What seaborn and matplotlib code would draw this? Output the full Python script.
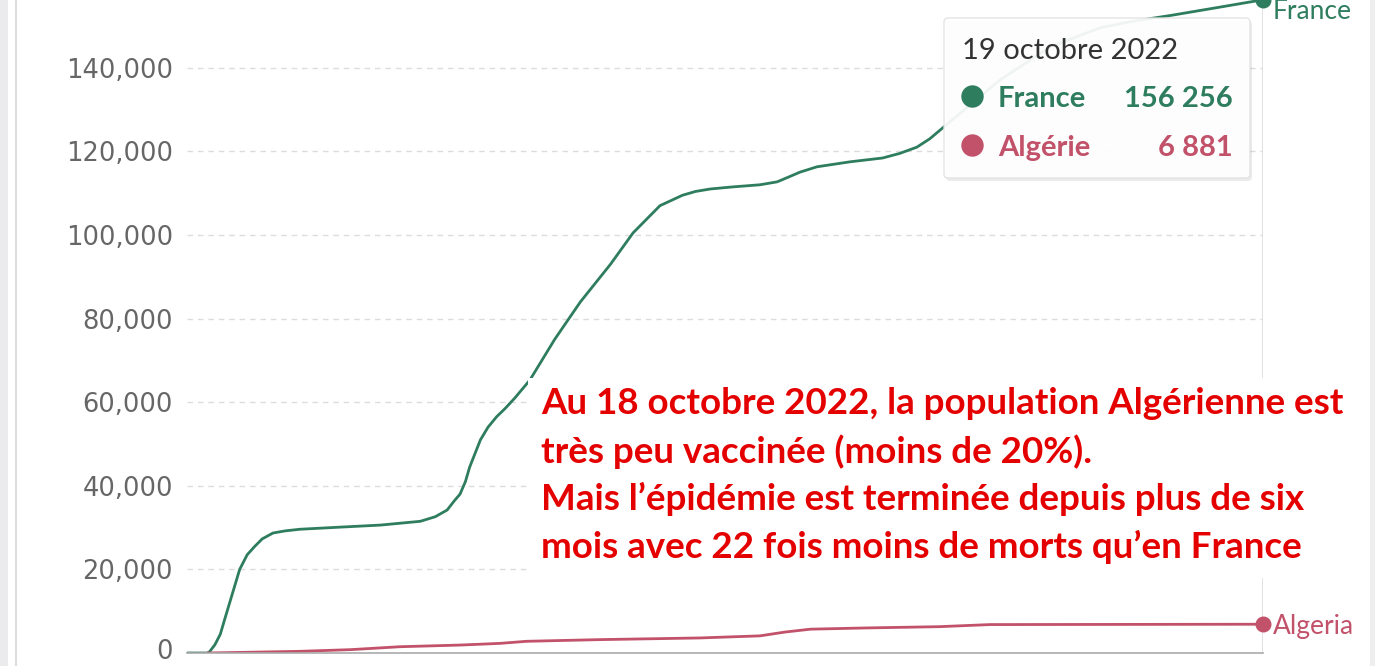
import pandas as pd
import seaborn as sns
import matplotlib.pyplot as plt
import matplotlib.transforms as mtransforms
from matplotlib.patches import FancyBboxPatch, Rectangle
from matplotlib.ticker import FuncFormatter

# cumulative confirmed deaths
france_dates = ["2020-01-22", "2020-02-10", "2020-02-12", "2020-02-17", "2020-02-22",
                "2020-02-26", "2020-03-04", "2020-03-11", "2020-03-18", "2020-03-25",
                "2020-04-01", "2020-04-11", "2020-04-22", "2020-05-06", "2020-06-12",
                "2020-07-20", "2020-08-26", "2020-09-09", "2020-09-20", "2020-09-27",
                "2020-10-02", "2020-10-07", "2020-10-11", "2020-10-21", "2020-10-28",
                "2020-11-05", "2020-11-13", "2020-11-22", "2020-12-06", "2020-12-29",
                "2021-01-22", "2021-02-19", "2021-03-12", "2021-04-06", "2021-04-27",
                "2021-05-09", "2021-05-23", "2021-06-13", "2021-07-08", "2021-07-24",
                "2021-08-05", "2021-08-14", "2021-08-30", "2021-09-30", "2021-10-30",
                "2021-11-15", "2021-12-01", "2021-12-13", "2021-12-25", "2022-01-19",
                "2022-02-16", "2022-04-04", "2022-05-20", "2022-06-17", "2022-07-25",
                "2022-09-09", "2022-10-19"]
france_deaths = [0, 0, 300, 2000, 4500,
                 8000, 14000, 20000, 23500, 25500,
                 27300, 28700, 29200, 29600, 30100,
                 30600, 31500, 32600, 34200, 36500,
                 38000, 41000, 44500, 51000, 54000,
                 56500, 58500, 61000, 65300, 75000,
                 84000, 93000, 100500, 107000, 109500,
                 110400, 111000, 111500, 112000, 112700,
                 114000, 115000, 116300, 117500, 118400,
                 119500, 121000, 123000, 125600, 131000,
                 137000, 145000, 149500, 151000, 152500,
                 154500, 156256]

algeria_dates = ["2020-02-10", "2020-05-06", "2020-06-22", "2020-08-07", "2020-10-02",
                 "2020-11-08", "2020-12-03", "2021-02-09", "2021-05-13", "2021-07-08",
                 "2021-07-31", "2021-08-24", "2021-10-16", "2021-12-22", "2022-02-07",
                 "2022-10-19"]
algeria_deaths = [0, 400, 800, 1500, 1900,
                  2300, 2800, 3200, 3600, 4100,
                  5000, 5700, 6000, 6300, 6800,
                  6881]

colors = {"France": "#2e7d5e", "Algeria": "#c2516a"}
tick_dates = ["2020-01-22", "2021-01-30", "2021-08-26", "2022-10-19"]
y_ticks = [0, 20000, 40000, 60000, 80000, 100000, 120000, 140000]

tooltip_date = "19 octobre 2022"
tooltip_rows = [("France", "156 256"), ("Algérie", "6 881")]
note_lines = ["Au 18 octobre 2022, la population Algérienne est",
              "très peu vaccinée (moins de 20%).",
              "Mais l’épidémie est terminée depuis plus de six",
              "mois avec 22 fois moins de morts qu’en France"]

df = pd.concat([
    pd.DataFrame({"date": pd.to_datetime(france_dates), "deaths": france_deaths, "country": "France"}),
    pd.DataFrame({"date": pd.to_datetime(algeria_dates), "deaths": algeria_deaths, "country": "Algeria"}),
])

sns.set_style("white")
plt.rcParams["font.family"] = ["Lato", "DejaVu Sans"]

W, H = 1375, 666
fig = plt.figure(figsize=(W / 100, H / 100), dpi=100)
ax = fig.add_axes([187 / W, 13 / H, 1076 / W, 653 / H])

sns.lineplot(data=df, x="date", y="deaths", hue="country", palette=colors,
             legend=False, linewidth=2.0, ax=ax)

start, end = pd.Timestamp(france_dates[0]), pd.Timestamp(france_dates[-1])
ax.set_xlim(start, end)
ax.set_ylim(0, 156200)
ax.axvline(end, color="#dddddd", linewidth=1.2, zorder=0)

# end dots + series labels
for name, dates, vals, off in [("France", france_dates, france_deaths, (7, -8.5)),
                               ("Algeria", algeria_dates, algeria_deaths, (7, -1.5))]:
    ax.scatter([pd.Timestamp(dates[-1])], [vals[-1]], s=110, color=colors[name],
               zorder=5, clip_on=False)
    ax.annotate(name, (pd.Timestamp(dates[-1]), vals[-1]), xytext=off,
                textcoords="offset points", va="center",
                color=colors[name], fontsize=19, annotation_clip=False)

ax.set_yticks(y_ticks)
ax.yaxis.set_major_formatter(FuncFormatter(lambda v, p: f"{v:,.0f}"))
ax.set_xticks(pd.to_datetime(tick_dates))
ax.set_xticklabels([""] * len(tick_dates))
ax.tick_params(axis="y", length=0, pad=10, labelsize=18.5, labelcolor="#666666")
ax.tick_params(axis="x", length=7, width=1.2, color="#aaaaaa", direction="out")
for lab in ax.get_yticklabels():
    lab.set_family("DejaVu Sans")
# the "0" label sits on the bottom edge; nudge it up a little so it stays inside
zero_lab = ax.get_yticklabels()[0]
zero_lab.set_transform(zero_lab.get_transform()
                       + mtransforms.ScaledTranslation(0, 4 / 100, fig.dpi_scale_trans))
ax.yaxis.grid(True, linestyle=(0, (4, 3.5)), color="#dcdcdc", linewidth=1)
ax.set_axisbelow(True)
for s in ["top", "right", "left"]:
    ax.spines[s].set_visible(False)
ax.spines["bottom"].set_color("#aaaaaa")
ax.spines["bottom"].set_linewidth(1.2)
ax.set_xlabel("")
ax.set_ylabel("")

# overlay in pixel coordinates for page chrome, tooltip and note
ov = fig.add_axes([0, 0, 1, 1], zorder=10)
ov.set_xlim(0, W)
ov.set_ylim(H, 0)
ov.axis("off")
ov.patch.set_alpha(0)

ov.add_patch(Rectangle((0, 0), 8, H, color="#ebebee", lw=0))
ov.plot([16, 16], [0, H], color="#dddddd", lw=1.5)
ov.add_patch(Rectangle((1370, 0), 5, H, color="#eeeeee", lw=0))

# tooltip
ov.add_patch(FancyBboxPatch((946, 21), 306, 160, boxstyle="round,pad=0,rounding_size=4",
                            facecolor="#000000", alpha=0.08, lw=0))
ov.add_patch(FancyBboxPatch((944, 18), 306, 160, boxstyle="round,pad=0,rounding_size=4",
                            facecolor="white", alpha=0.93, edgecolor="#e2e2e2", lw=1))
ov.text(962, 51, tooltip_date, fontsize=21, color="#333333", va="center", ha="left")
tip_colors = [colors["France"], colors["Algeria"]]
for i, (name, val) in enumerate(tooltip_rows):
    yy = 99 + i * 49
    ov.scatter([972], [yy - 3], s=260, color=tip_colors[i], lw=0)
    ov.text(998, yy, name, fontsize=21, fontweight="bold", color=tip_colors[i], va="center")
    ov.text(1233, yy, val, fontsize=21, fontweight="bold", color=tip_colors[i],
            va="center", ha="right")

# red note box
ov.add_patch(Rectangle((528, 378), 837, 200, color="white", lw=0))
for i, line in enumerate(note_lines):
    ov.text(541, 404 + i * 47.5, line, fontsize=26.5, fontweight="bold", color="#e50000",
            va="center", ha="left")

fig.savefig("out.png", dpi=100)
